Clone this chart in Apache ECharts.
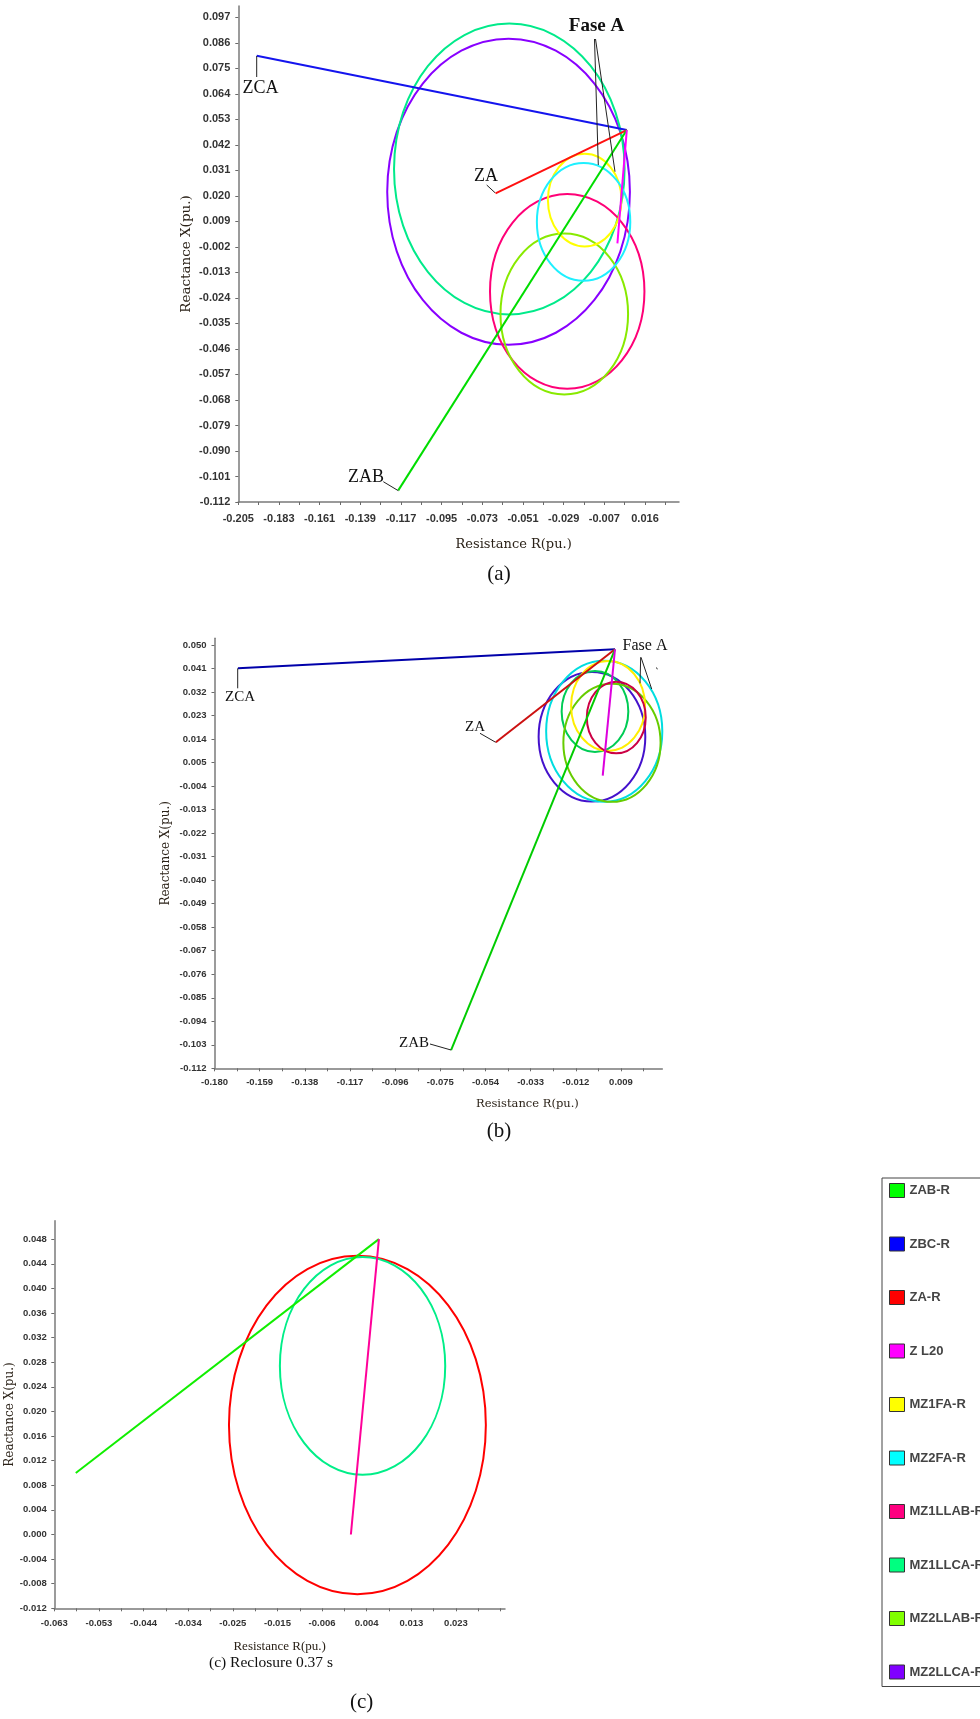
<!DOCTYPE html>
<html><head><meta charset="utf-8">
<script src="https://cdn.jsdelivr.net/npm/echarts@6/dist/echarts.min.js"></script>
<style>html,body{margin:0;padding:0;background:#fff}#chart{width:980px;height:1719px}</style>
</head><body><div id="chart"></div>
<script>
// ---------------- tick labels ----------------
const xTicksA = ['-0.205','-0.183','-0.161','-0.139','-0.117','-0.095','-0.073','-0.051','-0.029','-0.007','0.016'];
const yTicksA = ['0.097','0.086','0.075','0.064','0.053','0.042','0.031','0.020','0.009','-0.002','-0.013','-0.024','-0.035','-0.046','-0.057','-0.068','-0.079','-0.090','-0.101','-0.112'];
const xTicksB = ['-0.180','-0.159','-0.138','-0.117','-0.096','-0.075','-0.054','-0.033','-0.012','0.009'];
const yTicksB = ['0.050','0.041','0.032','0.023','0.014','0.005','-0.004','-0.013','-0.022','-0.031','-0.040','-0.049','-0.058','-0.067','-0.076','-0.085','-0.094','-0.103','-0.112'];
const xTicksC = ['-0.063','-0.053','-0.044','-0.034','-0.025','-0.015','-0.006','0.004','0.013','0.023'];
const yTicksC = ['0.048','0.044','0.040','0.036','0.032','0.028','0.024','0.020','0.016','0.012','0.008','0.004','0.000','-0.004','-0.008','-0.012'];

// ---------------- series names (legend) ----------------
const legendNames = ['ZAB-R','ZBC-R','ZA-R','Z L20','MZ1FA-R','MZ2FA-R','MZ1LLAB-R','MZ1LLCA-R','MZ2LLAB-R','MZ2LLCA-R'];

// ---------------- panel (a) data: lines [[R,X],[R,X]], circles [R0, X0, radius] ----------------
const aZAB   = [[-0.118, -0.107], [0.0063, 0.0484]];
const aZBC   = [[-0.195, 0.0804], [0.0063, 0.0484]];
const aZA    = [[-0.0651, 0.0211], [0.0063, 0.0484]];
const aZL20  = [[0.0063, 0.0484], [0.0012, -0.0005]];
const aMZ1FA   = [-0.0166, 0.0182, 0.0200];
const aMZ2FA   = [-0.0172, 0.0088, 0.0254];
const aMZ1LLAB = [-0.0261, -0.0212, 0.0420];
const aMZ1LLCA = [-0.0576, 0.0316, 0.0627];
const aMZ2LLAB = [-0.0277, -0.0309, 0.0347];
const aMZ2LLCA = [-0.0580, 0.0218, 0.0660];

// ---------------- panel (b) data ----------------
const bZAB   = [[-0.070, -0.105], [0.0062, 0.0484]];
const bZBC   = [[-0.1691, 0.0411], [0.0062, 0.0484]];
const bZA    = [[-0.0492, 0.0128], [0.0062, 0.0484]];
const bZL20  = [[0.0062, 0.0484], [0.0005, 0.0000]];
const bMZ1FA   = [0.0030, 0.0267, 0.0172];
const bMZ2FA   = [0.0012, 0.0170, 0.0270];
const bMZ1LLAB = [0.0068, 0.0223, 0.0137];
const bMZ1LLCA = [-0.0031, 0.0246, 0.0155];
const bMZ2LLAB = [0.0048, 0.0126, 0.0226];
const bMZ2LLCA = [-0.0045, 0.0149, 0.0248];

// ---------------- panel (c) data ----------------
const cZAB   = [[-0.0584, 0.0100], [0.0065, 0.0480]];
const cZL20  = [[0.0065, 0.0480], [0.0005, 0.0000]];
const cZA    = [0.0019, 0.0178, 0.0275];
const cMZ1LLCA = [0.0030, 0.0274, 0.0177];

// ---------------- styling / layout ----------------
const legendColors = ['#00ff00','#0000ff','#ff0000','#ff00ff','#ffff00','#00ffff','#ff0080','#00ff80','#80ff00','#8000ff'];
const colA = {ZAB:'#00dd00',ZBC:'#1414ee',ZA:'#ff1010',ZL20:'#ff00ff',MZ1FA:'#ffff00',MZ2FA:'#1ef0ff',MZ1LLAB:'#ff0077',MZ1LLCA:'#00ea8a',MZ2LLAB:'#88ea00',MZ2LLCA:'#8800ff'};
const colB = {ZAB:'#00cc00',ZBC:'#0000aa',ZA:'#cc1111',ZL20:'#dd00dd',MZ1FA:'#ffee00',MZ2FA:'#00dde0',MZ1LLAB:'#cc0044',MZ1LLCA:'#00cc55',MZ2LLAB:'#66cc00',MZ2LLCA:'#4411cc'};
const colC = {ZAB:'#11ee00',ZA:'#ff0000',ZL20:'#ff0099',MZ1LLCA:'#00ee88'};

// narrow sans for tick labels if available
const narrowOK = (function(){
  const c = document.createElement('canvas').getContext('2d');
  c.font = 'bold 20px monospace'; const w1 = c.measureText('0.097-0.112').width;
  c.font = 'bold 20px "Liberation Sans Narrow", monospace'; const w2 = c.measureText('0.097-0.112').width;
  return Math.abs(w1 - w2) > 0.5;
})();
const tickFont = narrowOK ? 'Liberation Sans Narrow' : 'Liberation Sans';
const fsA = narrowOK ? 14 : 11, fsB = narrowOK ? 11.5 : 9.5, fsC = narrowOK ? 11 : 9.5;

const grids = [
  {left:238.3, top:6, width:440.7, height:496},
  {left:214.5, top:638.3, width:447.8, height:430},
  {left:54.3, top:1220.7, width:450.7, height:387.6}
];

function nearest(arr, v){let b=0;for(let i=1;i<arr.length;i++){if(Math.abs(arr[i]-v)<Math.abs(arr[b]-v))b=i;}return b;}

function makeX(gi, labels, step, max, fs, margin, nameGap, namePad, nameFont, nameSize){
  const start = parseFloat(labels[0]);
  const pos = labels.map((_, i) => start + i*step);
  const minor = [];
  for (let k=0; start + k*step/2 <= max + 1e-9; k++) minor.push(start + k*step/2);
  return {
    type:'value', gridIndex:gi, min:start, max:max,
    name:'Resistance R(pu.)', nameLocation:'middle', nameGap:nameGap,
    nameTextStyle:{fontFamily:nameFont, fontSize:nameSize, color:'#2b2218', padding:[0,0,0,namePad]},
    axisLine:{show:true, onZero:false, lineStyle:{color:'#7a7a7a', width:1.5}},
    axisTick:{show:true, length:3, lineStyle:{color:'#6a6a6a'}, customValues:minor},
    axisLabel:{customValues:pos, margin:margin, fontFamily:tickFont, fontWeight:'bold', fontSize:fs, color:'#333',
      formatter:(v)=>labels[nearest(pos, v)]},
    splitLine:{show:false}
  };
}
function makeY(gi, labels, max, fs, margin, nameGap, nameSize){
  const pos = labels.map(s => parseFloat(s));
  return {
    type:'value', gridIndex:gi, min:Math.min(...pos), max:max,
    name:'Reactance X(pu.)', nameLocation:'middle', nameGap:nameGap,
    nameTextStyle:{fontFamily:'DejaVu Serif', fontSize:nameSize, color:'#2b2218'},
    axisLine:{show:true, onZero:false, lineStyle:{color:'#7a7a7a', width:1.5}},
    axisTick:{show:true, length:3, lineStyle:{color:'#6a6a6a'}, customValues:pos},
    axisLabel:{customValues:pos, margin:margin, fontFamily:tickFont, fontWeight:'bold', fontSize:fs, color:'#333',
      formatter:(v)=>labels[nearest(pos, v)]},
    splitLine:{show:false}
  };
}

function lineS(name, gi, data, color){
  return {type:'line', name:name, xAxisIndex:gi, yAxisIndex:gi, data:data, showSymbol:false, symbol:'none',
    lineStyle:{color:color, width:2}, itemStyle:{color:color}, z:3};
}
function circleS(name, gi, circle, color){
  return {type:'custom', name:name, xAxisIndex:gi, yAxisIndex:gi, data:[circle], encode:{x:0, y:1}, z:2,
    itemStyle:{color:color},
    renderItem:(params, api) => {
      const c = api.coord([api.value(0), api.value(1)]);
      const s = api.size([api.value(2), api.value(2)]);
      return {type:'ellipse', shape:{cx:c[0], cy:c[1], rx:s[0], ry:s[1]},
        style:{fill:'none', stroke:color, lineWidth:2}};
    }};
}

const series = [
  // (a)
  circleS('MZ2LLCA-R',0,aMZ2LLCA,colA.MZ2LLCA),
  circleS('MZ1LLCA-R',0,aMZ1LLCA,colA.MZ1LLCA),
  circleS('MZ1LLAB-R',0,aMZ1LLAB,colA.MZ1LLAB),
  circleS('MZ2LLAB-R',0,aMZ2LLAB,colA.MZ2LLAB),
  circleS('MZ1FA-R',0,aMZ1FA,colA.MZ1FA),
  circleS('MZ2FA-R',0,aMZ2FA,colA.MZ2FA),
  lineS('ZBC-R',0,aZBC,colA.ZBC),
  lineS('ZA-R',0,aZA,colA.ZA),
  lineS('ZAB-R',0,aZAB,colA.ZAB),
  lineS('Z L20',0,aZL20,colA.ZL20),
  // (b)
  circleS('MZ2LLCA-R',1,bMZ2LLCA,colB.MZ2LLCA),
  circleS('MZ2FA-R',1,bMZ2FA,colB.MZ2FA),
  circleS('MZ1LLCA-R',1,bMZ1LLCA,colB.MZ1LLCA),
  circleS('MZ2LLAB-R',1,bMZ2LLAB,colB.MZ2LLAB),
  circleS('MZ1FA-R',1,bMZ1FA,colB.MZ1FA),
  circleS('MZ1LLAB-R',1,bMZ1LLAB,colB.MZ1LLAB),
  lineS('ZBC-R',1,bZBC,colB.ZBC),
  lineS('ZA-R',1,bZA,colB.ZA),
  lineS('ZAB-R',1,bZAB,colB.ZAB),
  lineS('Z L20',1,bZL20,colB.ZL20),
  // (c)
  circleS('ZA-R',2,cZA,colC.ZA),
  circleS('MZ1LLCA-R',2,cMZ1LLCA,colC.MZ1LLCA),
  lineS('ZAB-R',2,cZAB,colC.ZAB),
  lineS('Z L20',2,cZL20,colC.ZL20)
];

// ---------------- annotations ----------------
const serif = 'Liberation Serif';
function txt(t, x, y, size, weight){
  return {type:'text', silent:true, z:10, style:{text:t, x:x, y:y, font:(weight||'normal')+' '+size+'px "'+serif+'"', fill:'#111', align:'center', verticalAlign:'middle'}};
}
function seg(x1,y1,x2,y2){
  return {type:'line', silent:true, z:10, shape:{x1:x1,y1:y1,x2:x2,y2:y2}, style:{stroke:'#222', lineWidth:1}};
}
const graphics = [
  // (a)
  txt('Fase A', 596.5, 26.5, 19, 'bold'),
  seg(594.5,39,598.3,165), seg(595.5,39,615,171.7),
  txt('ZCA', 260.5, 88, 18), seg(256.7,56,256.7,77),
  txt('ZA', 486, 176, 18), seg(486.7,185,495,192.7),
  txt('ZAB', 366, 477.5, 18), seg(383.3,481.7,398.3,490.7),
  txt('(a)', 499, 574, 21),
  // (b)
  txt('Fase A', 645, 645.5, 16),
  seg(640.7,657.3,640,683.3), seg(641,657.3,651.7,689), seg(656.5,667.5,657.3,669.3),
  txt('ZCA', 240, 697, 15), seg(237.7,668.3,237.7,688.3),
  txt('ZA', 475, 727.5, 15), seg(480,733.3,495.7,742.3),
  txt('ZAB', 414, 1043, 15), seg(430,1044,451,1050),
  txt('(b)', 499, 1131, 21),
  // (c)
  txt('(c) Reclosure 0.37 s', 271, 1663, 15.5),
  txt('(c)', 361.7, 1702.7, 21)
];

const chart = echarts.init(document.getElementById('chart'), null, {renderer:'canvas'});
chart.setOption({
  backgroundColor:'#ffffff',
  animation:false,
  grid: grids,
  xAxis: [
    makeX(0, xTicksA, 0.02212, 0.0347, fsA, 11, 36, 110, 'DejaVu Serif', 13),
    makeX(1, xTicksB, 0.021, 0.0282, fsB, 9.5, 30, 178, 'DejaVu Serif', 11.5),
    makeX(2, xTicksC, 0.009556, 0.0335, fsC, 10.5, 32, 0, 'Liberation Serif', 13)
  ],
  yAxis: [
    makeY(0, yTicksA, 0.1019, fsA, 8, 45, 13.5),
    makeY(1, yTicksB, 0.0526, fsB, 8, 43, 12),
    makeY(2, yTicksC, 0.0510, fsC, 7.5, 37, 12)
  ],
  legend: {
    orient:'vertical', left:882, top:1178, padding:[5,40,7,7], itemGap:38.5,
    itemWidth:15, itemHeight:14, icon:'rect', selectedMode:false,
    borderColor:'#444', borderWidth:1,
    textStyle:{fontFamily:'Liberation Sans', fontWeight:'bold', fontSize:13, color:'#444', lineHeight:14},
    data: legendNames.map((n,i)=>({name:n, itemStyle:{color:legendColors[i], borderColor:'#333', borderWidth:1}}))
  },
  graphic: graphics,
  series: series
});
</script></body></html>
